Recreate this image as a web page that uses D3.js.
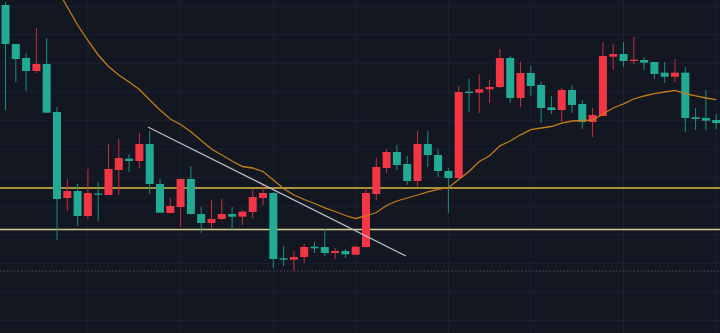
<!DOCTYPE html>
<html>
<head>
<meta charset="utf-8">
<script src="https://cdn.jsdelivr.net/npm/d3@7"></script>
<style>
  html, body { margin: 0; padding: 0; background: #131722; }
  svg { display: block; }
</style>
</head>
<body>
<svg id="chart" width="720" height="333"></svg>
<script>
// Session OHLC prices, one entry per bar, oldest first
const opens  = [132.80,128.90,127.50,126.20,126.90,122.10,113.50,114.20,111.70,113.95,
                113.80,116.30,117.43,117.20,118.90,114.90,112.00,112.60,115.40,111.90,
                111.00,111.40,111.90,111.63,112.10,113.50,114.00,107.47,107.33,107.60,
                108.63,108.60,108.00,108.20,107.83,108.60,113.90,116.50,118.10,116.90,
                115.20,118.90,117.80,116.20,115.50,124.13,124.03,124.37,124.60,127.50,
                123.50,126.00,124.80,122.57,122.30,124.30,122.90,121.10,121.70,127.63,
                127.90,127.20,127.30,127.10,126.03,125.63,126.03,121.57,121.50,121.30];
const highs  = [133.10,128.93,128.00,130.50,129.50,122.60,115.40,114.90,116.40,115.10,
                118.90,119.40,117.90,120.00,120.20,115.40,113.50,115.40,116.70,112.60,
                113.30,113.40,112.60,112.30,114.30,114.80,114.10,108.70,108.20,108.90,
                109.10,110.40,108.50,108.40,108.70,114.50,117.50,118.40,118.80,117.70,
                120.20,120.20,118.40,116.50,124.70,125.40,125.90,125.30,128.40,127.70,
                127.10,126.70,125.10,123.70,124.50,124.80,123.30,122.50,129.10,128.90,
                129.10,129.60,127.60,127.10,127.10,127.40,126.60,122.50,124.30,121.90];
const lows   = [122.30,125.10,124.20,126.00,122.00,109.30,112.20,110.70,111.40,111.20,
                113.80,113.80,116.10,116.50,113.90,112.00,111.95,110.60,111.85,110.00,
                110.50,111.30,110.20,110.80,111.50,112.80,106.50,106.70,106.20,107.00,
                108.00,107.70,107.40,107.50,107.80,108.55,113.30,116.00,116.30,114.80,
                114.70,116.60,115.60,112.00,115.45,122.10,122.00,123.00,124.50,123.00,
                122.60,123.70,121.00,121.90,121.10,122.00,120.40,119.60,121.65,126.30,
                126.60,126.90,126.30,125.40,125.00,125.10,120.10,120.30,120.30,120.40];
const closes = [128.90,127.40,126.20,126.90,122.03,113.40,114.20,111.70,114.00,113.85,
                116.40,117.50,117.20,118.90,114.90,112.03,112.70,115.40,111.90,111.00,
                111.40,111.90,111.63,112.13,113.60,114.00,107.40,107.33,107.60,108.60,
                108.47,108.00,108.20,107.87,108.63,114.00,116.60,118.10,116.80,115.20,
                118.90,117.80,116.20,115.50,124.10,124.00,124.37,124.60,127.50,123.50,
                126.00,124.70,122.50,122.30,124.30,122.80,121.10,121.80,127.70,127.90,
                127.20,127.33,127.03,125.90,125.63,126.03,121.50,121.40,121.23,121.00];

// Moving average, starting at bar 5
const maStart = 5;
const maValues = [134.40,132.60,130.80,129.25,127.80,126.65,125.80,125.10,124.35,123.30,
                  122.30,121.40,120.85,120.13,119.25,118.40,117.80,117.20,116.65,116.50,
                  116.15,115.30,114.45,113.80,113.35,112.95,112.52,112.15,111.75,111.45,
                  111.70,112.05,112.75,113.20,113.50,113.80,114.12,114.37,114.53,115.35,
                  116.15,117.15,117.72,118.72,119.20,119.82,120.34,120.50,120.65,120.98,
                  121.20,121.25,121.28,121.90,122.50,122.92,123.40,123.70,123.93,124.10,
                  124.27,123.95,123.72,123.50,123.33];

// Horizontal price levels
const levelUpper = 114.50;
const levelLower = 110.35;
const levelDotted = 106.20;

// Trend line anchors: [bar position, price]
const trendStart = [13.83, 120.60];
const trendEnd   = [38.88, 107.70];

// Grid: price levels and bar positions of the time ticks
const gridPrices = [132.70,129.84,126.98,124.12,121.26,118.40,115.54,112.68,109.82,106.96,104.10,101.24];
const gridBars = [8,17,26,34,43,51,60,69];

const W = 720, H = 333;
const UP = "#f23645", DOWN = "#22ab94";
const UP_WICK = "#c92d3c", DOWN_WICK = "#1c8f7c";

const bars = opens.map((o, i) => ({ i, o, h: highs[i], l: lows[i], c: closes[i] }));

const x = d3.scaleLinear().domain([0, bars.length - 1]).range([5.5, 716.2]);
const y = d3.scaleLinear().domain([100, 133.3]).range([H, 0]);

const svg = d3.select("#chart");
svg.append("rect").attr("width", W).attr("height", H).attr("fill", "#131722");

// grid
const grid = svg.append("g").attr("stroke", "#1d2130").attr("stroke-width", 1);
grid.selectAll("line.h").data(gridPrices).join("line")
  .attr("class", "h")
  .attr("x1", 0).attr("x2", W)
  .attr("y1", d => y(d)).attr("y2", d => y(d));
grid.selectAll("line.v").data(gridBars).join("line")
  .attr("class", "v")
  .attr("y1", 0).attr("y2", H)
  .attr("x1", d => x(d)).attr("x2", d => x(d));

// dotted level
svg.append("line")
  .attr("x1", 0).attr("x2", W)
  .attr("y1", y(levelDotted)).attr("y2", y(levelDotted))
  .attr("stroke", "#4b505d").attr("stroke-width", 1)
  .attr("stroke-dasharray", "1.5,2");

// horizontal levels
svg.append("line")
  .attr("x1", 0).attr("x2", W)
  .attr("y1", y(levelUpper)).attr("y2", y(levelUpper))
  .attr("stroke", "#a8933c").attr("stroke-width", 2);
svg.append("line")
  .attr("x1", 0).attr("x2", W)
  .attr("y1", y(levelLower)).attr("y2", y(levelLower))
  .attr("stroke", "#d6cc94").attr("stroke-width", 1.5);

// candles
const candles = svg.append("g");
candles.selectAll("line.wick").data(bars).join("line")
  .attr("class", "wick")
  .attr("x1", d => x(d.i)).attr("x2", d => x(d.i))
  .attr("y1", d => y(d.h)).attr("y2", d => y(d.l))
  .attr("stroke", d => d.c > d.o ? UP_WICK : DOWN_WICK)
  .attr("stroke-width", 1);
candles.selectAll("rect.body").data(bars).join("rect")
  .attr("class", "body")
  .attr("x", d => x(d.i) - 4)
  .attr("width", 8)
  .attr("y", d => y(Math.max(d.o, d.c)))
  .attr("height", d => Math.max(1.2, Math.abs(y(d.o) - y(d.c))))
  .attr("fill", d => d.c > d.o ? UP : DOWN);

// moving average
const ma = maValues.map((v, k) => [maStart + k, v]);
svg.append("path")
  .datum(ma)
  .attr("fill", "none")
  .attr("stroke", "#c47c18")
  .attr("stroke-width", 1.3)
  .attr("d", d3.line().x(d => x(d[0])).y(d => y(d[1])));

// trend line
svg.append("line")
  .attr("x1", x(trendStart[0])).attr("y1", y(trendStart[1]))
  .attr("x2", x(trendEnd[0])).attr("y2", y(trendEnd[1]))
  .attr("stroke", "#b9bcc4").attr("stroke-width", 1.3);
</script>
</body>
</html>
